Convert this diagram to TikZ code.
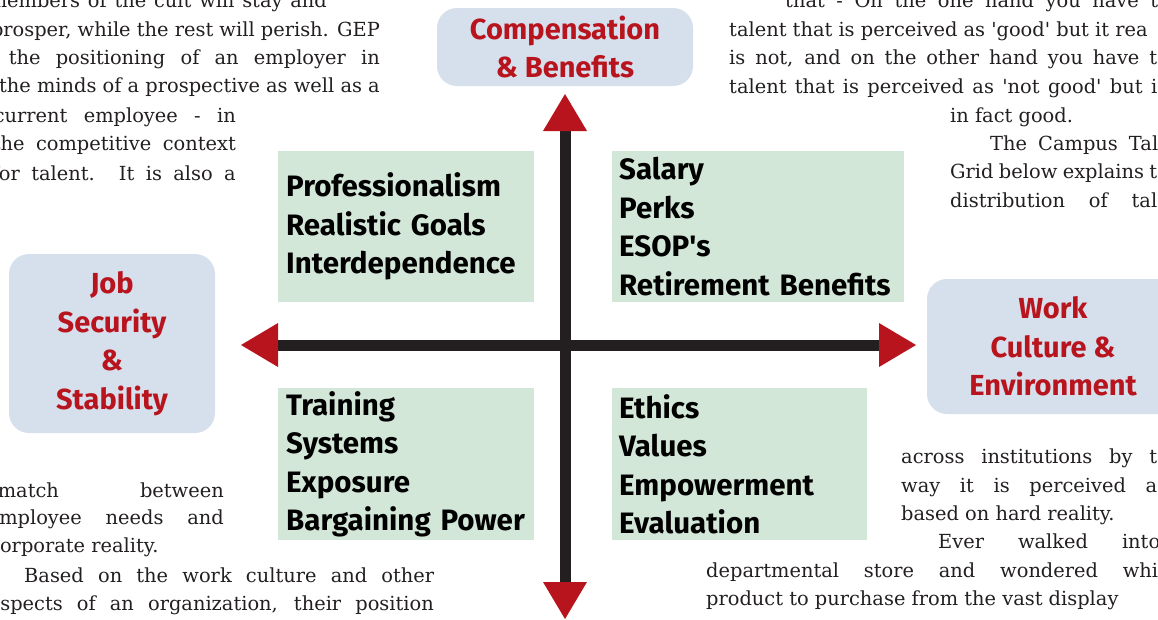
\documentclass[tikz,border=0pt]{standalone}
\usepackage{fontspec}
\setmainfont{DejaVu Serif}
\newfontfamily\gridfont{Fira Sans}
\usetikzlibrary{arrows.meta}
\usetikzlibrary{positioning}

\definecolor{headBlue}{HTML}{D6DFEC}
\definecolor{headRed}{HTML}{B8141D}
\definecolor{cellGreen}{HTML}{D3E7D9}
\definecolor{axisBlack}{HTML}{231F20}

\begin{document}
\begin{tikzpicture}[x=1pt,y=-1pt]

    % Define styles
    \tikzstyle{heading} = [rectangle, rounded corners=20pt, fill=headBlue, text=headRed, align=center, inner sep=0pt, font=\gridfont\bfseries\fontsize{29}{38.5}\selectfont]
    \tikzstyle{cell} = [rectangle, fill=cellGreen, anchor=north west, align=left, inner xsep=7pt, inner ysep=0pt, font=\gridfont\bfseries\fontsize{29.5}{38.5}\selectfont]
    \tikzstyle{axis} = [line width=11pt, draw=axisBlack, {Triangle[length=37pt, width=44pt, line width=0pt, color=headRed]}-{Triangle[length=37pt, width=44pt, line width=0pt, color=headRed]}]
    \tikzstyle{lineL} = [anchor=base east, inner sep=0pt, text=axisBlack, font=\fontsize{19.4}{28.6}\selectfont]
    \tikzstyle{lineR} = [anchor=base west, inner sep=0pt, text=axisBlack, font=\fontsize{19.4}{28.6}\selectfont]

    \useasboundingbox (0,0) rectangle (1158,619);
    \clip (0,0) rectangle (1158,619);

    % Page text round the grid
    \node[lineL] (leftTop1) at (327,7) {\makebox[338pt][s]{members of the cult will stay and}};
    \node[lineL] (leftTop2) at (380,36) {prosper, while the rest will perish. GEP};
    \node[lineL] (leftTop3) at (380,64) {\makebox[371pt][s]{the positioning of an employer in}};
    \node[lineL] (leftTop4) at (380,92) {the minds of a prospective as well as a};
    \node[lineL] (leftTop5) at (236,122) {\makebox[242pt][s]{current employee - in}};
    \node[lineL] (leftTop6) at (236,150) {\makebox[243pt][s]{the competitive context}};
    \node[lineL] (leftTop7) at (236,180) {\makebox[244pt][s]{for talent. It is also a}};

    \node[lineL] (leftBot1) at (224,497) {\makebox[226pt][s]{match between}};
    \node[lineL] (leftBot2) at (224,524) {\makebox[236pt][s]{employee needs and}};
    \node[lineR] (leftBot3) at (-11,552) {corporate reality.};
    \node[lineR] (leftBot4) at (24,582) {\makebox[410pt][s]{Based on the work culture and other}};
    \node[lineL] (leftBot5) at (434,610) {\makebox[445pt][s]{aspects of an organization, their position}};

    \node[lineR] (rightTop1) at (785,7) {\makebox[373pt][s]{that - On the one hand you have t}};
    \node[lineR] (rightTop2) at (729,36) {talent that is perceived as \textquotesingle good\textquotesingle\ but it rea};
    \node[lineR] (rightTop3) at (729,64) {\makebox[428pt][s]{is not, and on the other hand you have t}};
    \node[lineR] (rightTop4) at (729,93) {\makebox[428pt][s]{talent that is perceived as \textquotesingle not good\textquotesingle\ but i}};
    \node[lineR] (rightTop5) at (950,122) {in fact good.};
    \node[lineR] (rightTop6) at (990,150) {\makebox[168pt][s]{The Campus Tal}};
    \node[lineR] (rightTop7) at (950,178) {\makebox[207pt][s]{Grid below explains t}};
    \node[lineR] (rightTop8) at (950,207) {\makebox[207pt][s]{distribution of tal}};

    \node[lineR] (rightBot1) at (901,463) {\makebox[256pt][s]{across institutions by t}};
    \node[lineR] (rightBot2) at (901,492) {\makebox[256pt][s]{way it is perceived a}};
    \node[lineR] (rightBot3) at (901,520) {based on hard reality.};
    \node[lineR] (rightBot4) at (938,548) {\makebox[222pt][s]{Ever walked into}};
    \node[lineR] (rightBot5) at (706,577) {\makebox[452pt][s]{departmental store and wondered whi}};
    \node[lineR] (rightBot6) at (706,605) {product to purchase from the vast display};

    % Headings
    \node[heading, minimum width=256pt, minimum height=78pt] (compensation) at (565,47) {Compensation\\\& Benefits};
    \node[heading, minimum width=206pt, minimum height=179pt] (security) at (112,343.5) {Job\\Security\\\&\\Stability};
    \node[heading, minimum width=252pt, minimum height=135pt] (culture) at (1053,346.5) {Work\\Culture \&\\Environment};

    % Quadrants
    \node[cell, inner xsep=8pt, text width=240pt, minimum height=151pt] (topLeft) at (278,151) {Professionalism\\\mbox{Realistic Goals}\\Interdependence};
    \node[cell, text width=278pt, minimum height=151pt] (topRight) at (612,151) {Salary\\Perks\\ESOP\textquotesingle s\\\mbox{Retirement Benefits}};
    \node[cell, inner xsep=8pt, text width=240pt, minimum height=152pt] (bottomLeft) at (278,388) {Training\\Systems\\Exposure\\\mbox{Bargaining Power}};
    \node[cell, text width=241pt, minimum height=152pt] (bottomRight) at (612,388) {Ethics\\Values\\Empowerment\\Evaluation};

    % Axes
    \coordinate (north) at (565,94);
    \coordinate (south) at (565,619);
    \coordinate (west) at (241,345);
    \coordinate (east) at (916,345);
    \draw[axis] (west) -- (east);
    \draw[axis] (north) -- (south);

\end{tikzpicture}
\end{document}
